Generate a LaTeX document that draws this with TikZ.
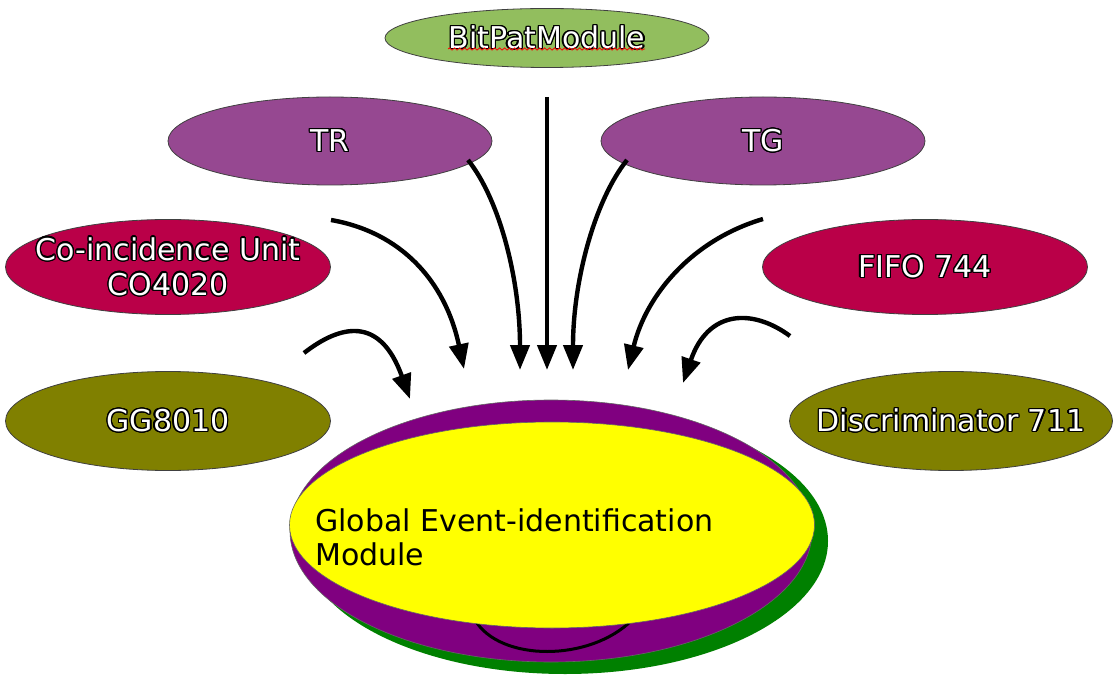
\documentclass[tikz,border=0pt]{standalone}
\usepackage{fontspec}
\setmainfont{DejaVu Sans}
\usepackage[copies]{contour}
\contourlength{1.2pt}
\contournumber{20}
\usetikzlibrary{shapes.geometric,arrows.meta,decorations.pathmorphing}
\definecolor{bpgreen}{RGB}{146,190,94}
\definecolor{tpurple}{RGB}{150,72,145}
\definecolor{crimson}{RGB}{186,0,72}
\definecolor{olive}{RGB}{128,128,0}
\definecolor{mpurple}{RGB}{128,0,128}
\definecolor{mgreen}{RGB}{0,128,0}
\definecolor{myellow}{RGB}{255,255,0}
\newcommand{\otext}[1]{\contour{black}{#1}}
\tikzset{
  blob/.style={ellipse, draw=black!75, line width=0.8pt, inner xsep=-60pt, inner ysep=-10pt,
    text=white, font=\fontsize{30}{35}\selectfont, align=center},
  smallblob/.style={blob, minimum width=324pt, minimum height=88pt},
  bigblob/.style={blob, minimum width=325pt, minimum height=97pt},
  flow/.style={line width=4.4pt, -{Triangle[length=25pt,width=19pt]}},
}
\begin{document}
\begin{tikzpicture}[x=1pt,y=-1pt]
\useasboundingbox[fill=white] (0,0) rectangle (1113,684);
% outer nodes
\node[blob, fill=bpgreen, minimum width=324pt, minimum height=59pt] (bitpat) at (547,38) {\otext{BitPatModule}};
\coordinate (ulA) at (448,49);
\coordinate (ulB) at (645,49);
\draw[red, line width=0.8pt, decorate, decoration={snake, amplitude=1.1pt, segment length=5pt}] (ulA) -- (ulB);
\node[smallblob, fill=tpurple] (tr) at (330,141) {\otext{TR}};
\node[smallblob, fill=tpurple] (tg) at (763,141) {\otext{TG}};
\node[bigblob, fill=crimson, minimum height=95pt] (coin) at (168,267) {\otext{Co-incidence Unit}\\\otext{CO4020}};
\node[bigblob, fill=crimson, minimum height=95pt] (fifo) at (925,267) {\otext{FIFO 744}};
\node[bigblob, fill=olive, minimum height=99pt] (gg) at (168,421) {\otext{GG8010}};
\node[bigblob, fill=olive, minimum height=99pt, minimum width=323pt] (disc) at (951,421) {\otext{Discriminator 711}};
% main module
\fill[mgreen] (565,541) ellipse [x radius=263, y radius=133];
\node[ellipse, fill=mpurple, draw=black!60, line width=0.6pt, minimum width=522pt, minimum height=262pt] (outer) at (551,531) {};
\coordinate (smA) at (475,620);
\coordinate (smB) at (632,620);
\draw[line width=3pt] (smA) .. controls (500,662) and (590,662) .. (smB);
\node[ellipse, fill=myellow, draw=black!60, line width=0.6pt, minimum width=525pt, minimum height=206pt] (core) at (552,525) {};
\node[anchor=west, align=left, inner sep=0pt, font=\fontsize{30}{34}\selectfont, text=black] (gtext) at (315,537) {Global Event-identification\\Module};
% arrows
\coordinate (bpS) at (547,97);
\coordinate (bpT) at (547,370);
\coordinate (trS) at (468,160);
\coordinate (trT) at (520,370);
\coordinate (tgS) at (627,160);
\coordinate (tgT) at (573,370);
\coordinate (coS) at (331,220);
\coordinate (coT) at (464,369);
\coordinate (fiS) at (763,219);
\coordinate (fiT) at (628,370);
\coordinate (ggS) at (304,353);
\coordinate (ggT) at (410,399);
\coordinate (diS) at (790,336);
\coordinate (diT) at (683,383);
\draw[flow] (bpS) -- (bpT);
\draw[flow] (trS) .. controls (500,200) and (520,280) .. (trT);
\draw[flow] (tgS) .. controls (595,200) and (573,280) .. (tgT);
\draw[flow] (coS) .. controls (400,232) and (445,280) .. (coT);
\draw[flow] (fiS) .. controls (692,240) and (646,295) .. (fiT);
\draw[flow] (ggS) .. controls (340,325) and (380,315) .. (ggT);
\draw[flow] (diS) .. controls (752,308) and (708,310) .. (diT);
\end{tikzpicture}
\end{document}
